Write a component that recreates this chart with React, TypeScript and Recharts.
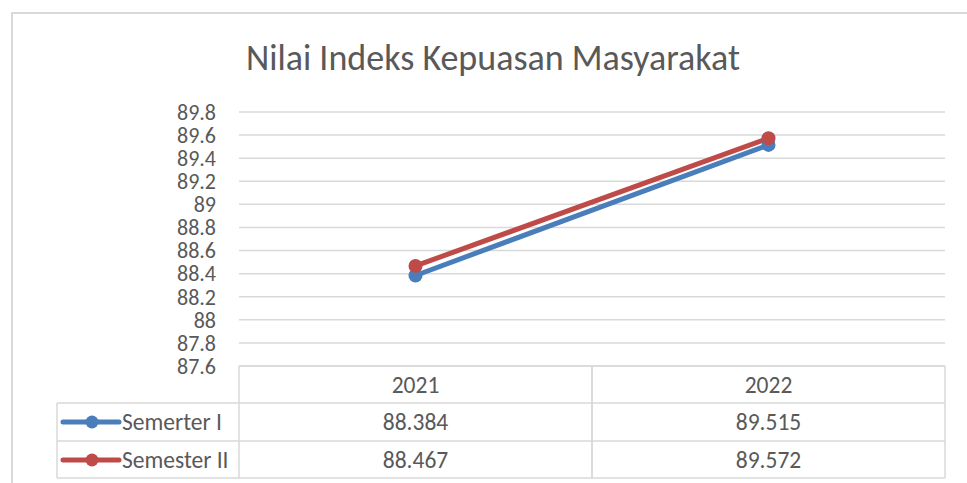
import { LineChart, Line, XAxis, YAxis, CartesianGrid } from 'recharts';

const years = ['2021', '2022'];
const semesterI = [88.384, 89.515];
const semesterII = [88.467, 89.572];
const yTicks = [87.6, 87.8, 88, 88.2, 88.4, 88.6, 88.8, 89, 89.2, 89.4, 89.6, 89.8];
const seriesNames = ['Semerter I', 'Semester II'];

const BLUE = '#4a7ebb';
const RED = '#be4b48';
const TEXT = '#595959';
const GRID = '#d9d9d9';
const FONT = 'Carlito, Lato, "Open Sans", sans-serif';
const TABLE_FS = 23.5;

const data = years.map((y, i) => ({ year: y, s1: semesterI[i], s2: semesterII[i] }));

// the data table under the plot, drawn one column per x tick
const TableTick = (props: any) => {
  const { x, y, index, payload } = props;
  const half = 176.5;
  const rowH = [37, 38, 37];
  const top = y;
  const r1 = top + rowH[0];
  const r2 = r1 + rowH[1];
  const bottom = r2 + rowH[2];
  const rowVals = [semesterI, semesterII];
  const colors = [BLUE, RED];
  const legendLeft = 57;
  const left = x - half;
  return (
    <g>
      <line x1={left} x2={x + half} y1={top} y2={top} stroke={GRID} strokeWidth={1.5} />
      <line x1={left} x2={left} y1={top} y2={bottom} stroke={GRID} strokeWidth={1.5} />
      <line x1={x + half} x2={x + half} y1={top} y2={bottom} stroke={GRID} strokeWidth={1.5} />
      {[r1, r2, bottom].map((ry) => (
        <line key={ry} x1={index === 0 ? legendLeft : left} x2={x + half} y1={ry} y2={ry} stroke={GRID} strokeWidth={1.5} />
      ))}
      <text x={x} y={top + rowH[0] / 2 + 8} textAnchor="middle" fill={TEXT} fontSize={TABLE_FS} fontFamily={FONT}>
        {payload.value}
      </text>
      {rowVals.map((vals, r) => (
        <text key={r} x={x} y={r1 + rowH[1] * r + 19 + 8} textAnchor="middle" fill={TEXT} fontSize={TABLE_FS} fontFamily={FONT}>
          {vals[index].toFixed(3)}
        </text>
      ))}
      {index === 0 && (
        <g>
          <line x1={legendLeft} x2={legendLeft} y1={r1} y2={bottom} stroke={GRID} strokeWidth={1.5} />
          {seriesNames.map((name, r) => {
            const cy = r1 + rowH[1] * r + 19;
            return (
              <g key={name}>
                <line x1={63} x2={119} y1={cy} y2={cy} stroke={colors[r]} strokeWidth={5} strokeLinecap="round" />
                <circle cx={92} cy={cy} r={6.5} fill={colors[r]} />
                <text x={122} y={cy + 8} fill={TEXT} fontSize={TABLE_FS} fontFamily={FONT}>
                  {name}
                </text>
              </g>
            );
          })}
        </g>
      )}
    </g>
  );
};

export default function App() {
  return (
    <div style={{ position: 'absolute', left: 0, top: 0, background: '#fff' }}>
      <LineChart width={967} height={483} data={data} margin={{ top: 112, right: 22, left: 0, bottom: 4 }}>
        <rect x={12} y={13} width={1000} height={500} fill="none" stroke={GRID} strokeWidth={2} />
        <text x={493} y={70} textAnchor="middle" fill={TEXT} fontSize={36} fontFamily={FONT}>
          Nilai Indeks Kepuasan Masyarakat
        </text>
        <CartesianGrid vertical={false} stroke={GRID} strokeWidth={1.5} />
        <XAxis
          dataKey="year"
          height={113}
          axisLine={false}
          tickLine={false}
          tickSize={0}
          tickMargin={0}
          padding={{ left: 176.5, right: 176.5 }}
          tick={<TableTick />}
        />
        <YAxis
          domain={[87.6, 89.8]}
          ticks={yTicks}
          width={239}
          axisLine={false}
          tickLine={false}
          tickSize={0}
          tickMargin={23}
          interval={0}
          tick={{ fill: TEXT, fontSize: 22, fontFamily: FONT }}
        />
        <Line dataKey="s1" name={seriesNames[0]} stroke={BLUE} strokeWidth={5} dot={{ r: 7, fill: BLUE, stroke: BLUE, strokeWidth: 0 }} activeDot={false} isAnimationActive={false} />
        <Line dataKey="s2" name={seriesNames[1]} stroke={RED} strokeWidth={5} dot={{ r: 7, fill: RED, stroke: RED, strokeWidth: 0 }} activeDot={false} isAnimationActive={false} />
      </LineChart>
    </div>
  );
}
